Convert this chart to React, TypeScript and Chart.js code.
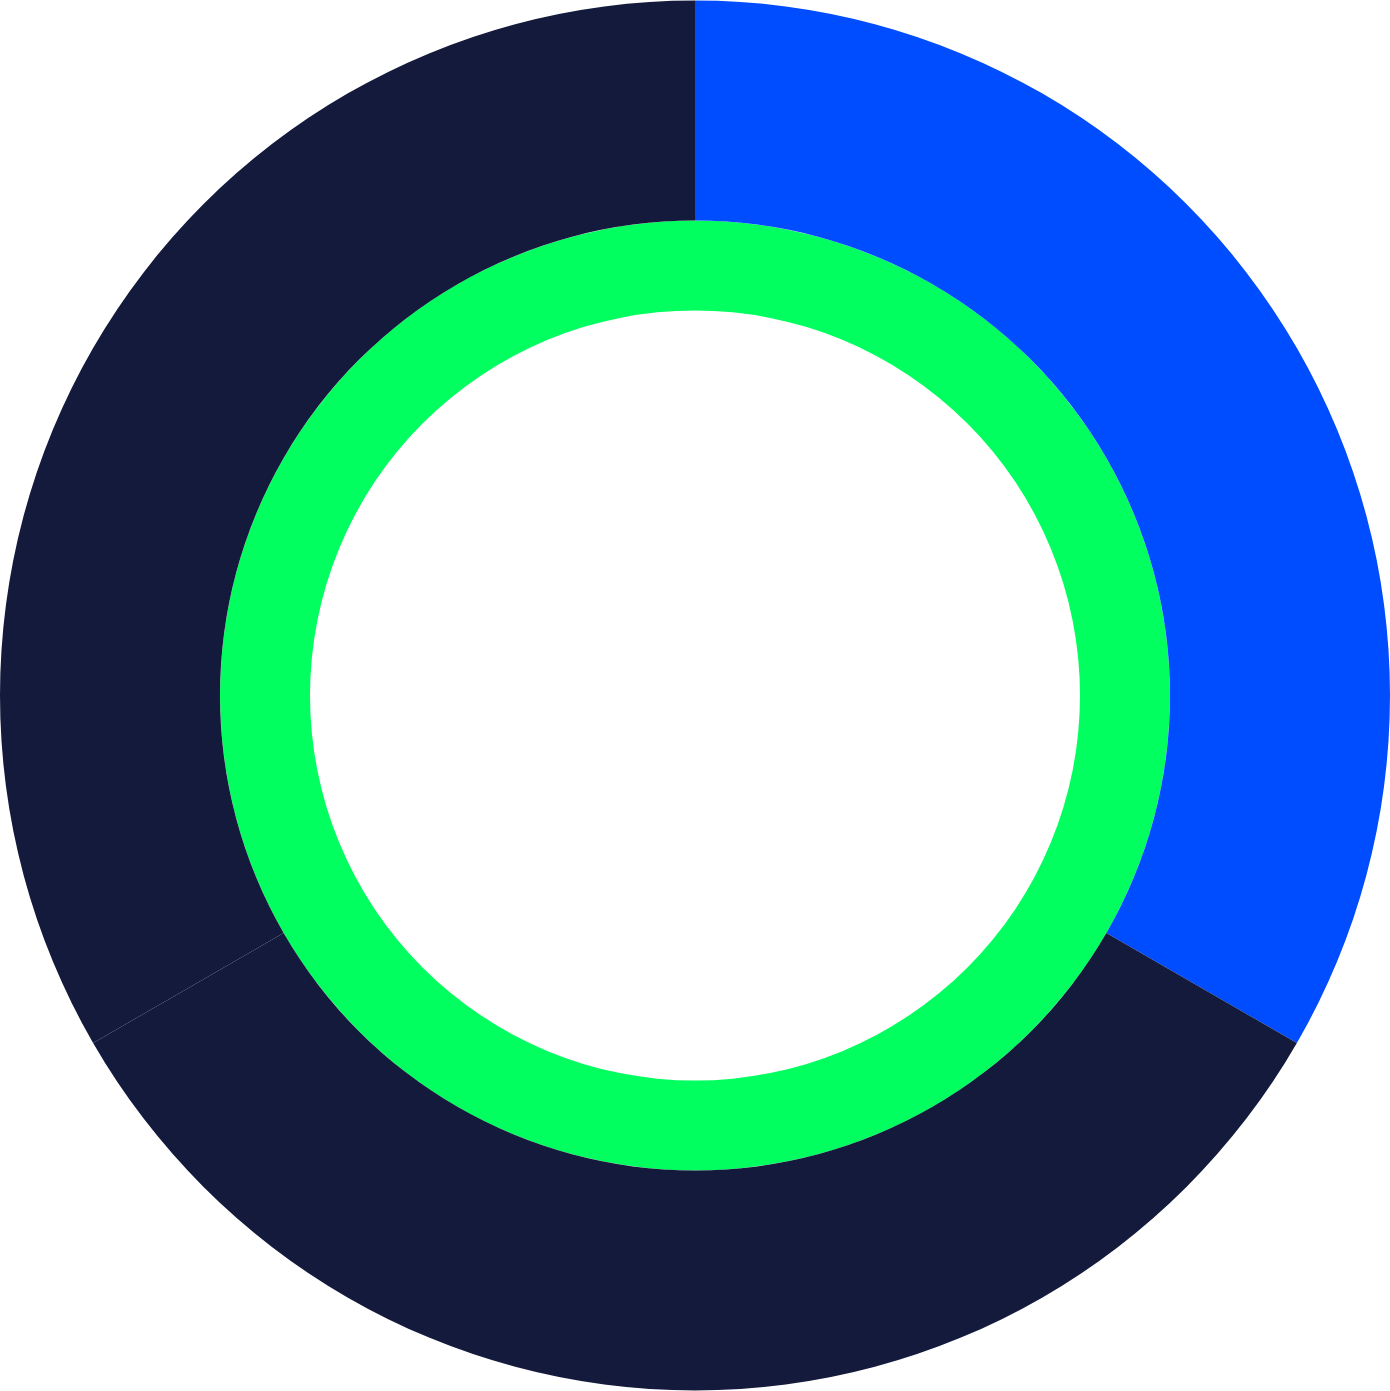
import React, { useEffect, useRef } from 'react';
import { Chart, registerables } from 'chart.js';

Chart.register(...registerables);

// outer ring: three equal parts, inner ring: one full part
const outerLabels = ['A', 'B', 'C'];
const outerValues = [1, 1, 1];
const outerColors = ['#004CFF', '#131A3C', '#131A3C'];
const innerValues = [1];
const innerColors = ['#00FF5F'];

const App: React.FC = () => {
  const chartRef = useRef<HTMLCanvasElement | null>(null);

  useEffect(() => {
    document.body.style.margin = '0';
    if (!chartRef.current) return;
    const ctx = chartRef.current.getContext('2d');

    const chart = new Chart(ctx as any, {
      type: 'doughnut',
      data: {
        labels: outerLabels,
        datasets: [
          {
            data: outerValues,
            backgroundColor: outerColors,
            borderWidth: 0,
            weight: 220,
          },
          {
            data: innerValues,
            backgroundColor: innerColors,
            borderWidth: 0,
            weight: 90,
          },
        ],
      },
      options: {
        animation: false,
        responsive: true,
        maintainAspectRatio: false,
        cutout: (385 / 695) * 100 + '%',
        layout: { padding: 0 },
        plugins: {
          legend: { display: false },
          tooltip: { enabled: false },
        },
      } as any,
    });

    return () => {
      chart.destroy();
    };
  }, []);

  return (
    <div style={{ position: 'absolute', left: 0, top: 0, width: 1390, height: 1391 }}>
      <canvas ref={chartRef} />
    </div>
  );
};

export default App;
